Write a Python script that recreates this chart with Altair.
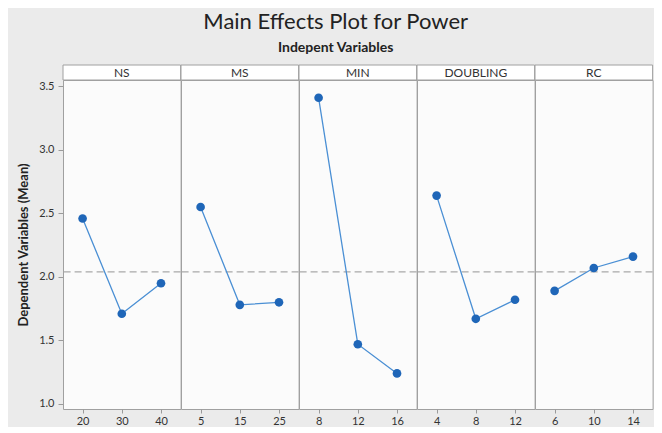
import altair as alt
import pandas as pd

factors = ["NS", "MS", "MIN", "DOUBLING", "RC"]

ns_levels = ["20", "30", "40"]
ns_means = [2.46, 1.71, 1.95]
ms_levels = ["5", "15", "25"]
ms_means = [2.55, 1.78, 1.80]
min_levels = ["8", "12", "16"]
min_means = [3.41, 1.47, 1.24]
doubling_levels = ["4", "8", "12"]
doubling_means = [2.64, 1.67, 1.82]
rc_levels = ["6", "10", "14"]
rc_means = [1.89, 2.07, 2.16]

grand_mean = 2.04
y_ticks = [1.0, 1.5, 2.0, 2.5, 3.0, 3.5]

rows = []
for f, lv, mv in zip(
    factors,
    [ns_levels, ms_levels, min_levels, doubling_levels, rc_levels],
    [ns_means, ms_means, min_means, doubling_means, rc_means],
):
    for i, (l, m) in enumerate(zip(lv, mv)):
        rows.append({"factor": f, "level": l, "idx": i, "mean": m, "grand": grand_mean})
df = pd.DataFrame(rows)

W, H = 117.6, 329
FONT = "Lato"
blue = "#1f66b8"

xenc = alt.X(
    "level:O",
    sort=alt.SortField("idx"),
    scale=alt.Scale(type="point", padding=0.5),
    axis=alt.Axis(title=None, labelAngle=0, domain=False, tickSize=4,
                  tickColor="#9a9a9a", labelPadding=2, labelFontSize=11,
                  labelColor="#333333"),
)
yenc = alt.Y(
    "mean:Q",
    scale=alt.Scale(domain=[0.96, 3.55], nice=False, zero=False),
    axis=alt.Axis(title="Dependent Variables (Mean)", values=y_ticks, format=".1f",
                  grid=False, domain=False, tickSize=5, tickColor="#9a9a9a",
                  labelPadding=4, labelFontSize=11, labelColor="#333333",
                  titleFontSize=13, titleFontWeight="bold", titleColor="#222222",
                  titlePadding=8),
)

base = alt.Chart(df)

rule = base.transform_filter("datum.idx == 0").mark_rule(
    color="#a9a9a9", strokeDash=[7, 4], strokeWidth=1.2
).encode(y=alt.Y("grand:Q"))

line = base.mark_line(color="#4a8fd4", strokeWidth=1.3).encode(x=xenc, y=yenc)
points = base.mark_point(filled=True, shape="circle", size=75, opacity=1, color=blue).encode(
    x=alt.X("level:O", sort=alt.SortField("idx")), y="mean:Q"
)

header_rect = base.transform_filter("datum.idx == 0").mark_rect(
    fill="white", stroke="#a0a0a0", strokeWidth=1
).encode(x=alt.value(0), x2=alt.value(W), y=alt.value(-15), y2=alt.value(0))

header_text = base.transform_filter("datum.idx == 0").mark_text(
    fontSize=12, color="#333333", baseline="middle", align="center", font=FONT
).encode(x=alt.value(W / 2), y=alt.value(-7), text="factor:N")

layered = alt.layer(rule, line, points, header_rect, header_text).properties(width=W, height=H)

chart = (
    layered.facet(
        column=alt.Column("factor:N", sort=factors, header=alt.Header(title=None, labels=False)),
        spacing=0,
    )
    .resolve_scale(x="independent")
    .properties(
        bounds="flush",
        title=alt.TitleParams(
            text="Main Effects Plot for Power",
            subtitle="Indepent Variables",
            anchor="middle",
            fontSize=22,
            fontWeight="normal",
            color="#222222",
            subtitleFontSize=14,
            subtitleFontWeight="bold",
            subtitleColor="#222222",
            subtitlePadding=7,
            offset=8,
        ),
        background="#ebebeb",
        padding={"left": 9, "top": 3, "right": 0, "bottom": 0},
    )
    .configure(font=FONT)
    .configure_view(stroke="#a0a0a0", fill="#fbfbfb")
)

chart.save("out.html", embed_options={"renderer": "svg", "actions": False})
